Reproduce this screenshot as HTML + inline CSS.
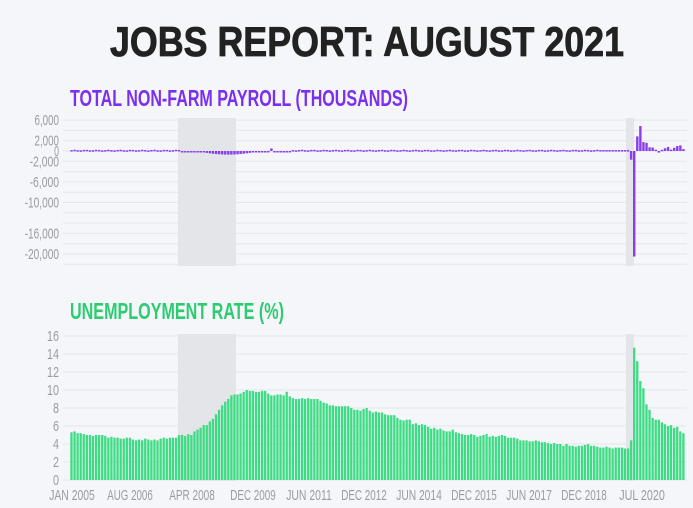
<!DOCTYPE html>
<html><head><meta charset="utf-8"><style>
html,body{margin:0;padding:0;background:#f4f6f9;}
svg{display:block;font-family:"Liberation Sans Narrow","Liberation Sans",sans-serif;}
</style></head><body>
<svg id="s" width="693" height="508" viewBox="0 0 693 508" xmlns="http://www.w3.org/2000/svg">
<rect width="693" height="508" fill="#f4f6f9"/>
<text x="367" y="56" text-anchor="middle" font-size="42" font-weight="bold" fill="#222" stroke="#222" stroke-width="0.8" textLength="514" lengthAdjust="spacingAndGlyphs">JOBS REPORT: AUGUST 2021</text>
<text x="70" y="106" font-size="23" font-weight="bold" fill="#7b2ff0" textLength="338" lengthAdjust="spacingAndGlyphs">TOTAL NON-FARM PAYROLL (THOUSANDS)</text>
<text x="70" y="319" font-size="23" font-weight="bold" fill="#2ecc71" textLength="214" lengthAdjust="spacingAndGlyphs">UNEMPLOYMENT RATE (%)</text>
<g id="g"></g>
</svg>
<script>
var g=document.getElementById('g'),h='';
var u=[5.3,5.4,5.2,5.2,5.1,5.0,5.0,4.9,5.0,5.0,5.0,4.9,4.7,4.8,4.7,4.7,4.6,4.6,4.7,4.7,4.5,4.4,4.5,4.4,4.6,4.5,4.4,4.5,4.4,4.6,4.7,4.6,4.7,4.7,4.7,5.0,5.0,4.9,5.1,5.0,5.4,5.6,5.8,6.1,6.1,6.5,6.8,7.3,7.8,8.3,8.7,9.0,9.4,9.5,9.5,9.6,9.8,10.0,9.9,9.9,9.8,9.8,9.9,9.9,9.6,9.4,9.4,9.5,9.5,9.4,9.8,9.3,9.1,9.0,9.0,9.1,9.0,9.1,9.0,9.0,9.0,8.8,8.6,8.5,8.3,8.3,8.2,8.2,8.2,8.2,8.2,8.0,7.8,7.8,7.7,7.9,8.0,7.7,7.5,7.6,7.5,7.5,7.3,7.2,7.2,7.2,6.9,6.7,6.6,6.7,6.7,6.2,6.3,6.1,6.2,6.1,5.9,5.7,5.8,5.6,5.7,5.5,5.4,5.4,5.6,5.3,5.2,5.1,5.0,5.0,5.1,5.0,4.8,4.9,5.0,5.1,4.8,4.9,4.8,4.9,5.0,4.9,4.7,4.7,4.7,4.6,4.4,4.4,4.4,4.3,4.3,4.4,4.3,4.2,4.2,4.1,4.0,4.1,4.0,4.0,3.8,4.0,3.8,3.8,3.7,3.8,3.8,3.9,4.0,3.8,3.8,3.7,3.6,3.6,3.7,3.6,3.5,3.6,3.6,3.6,3.5,3.5,4.4,14.7,13.2,11.0,10.2,8.4,7.8,6.9,6.7,6.7,6.4,6.2,6.0,6.1,5.8,5.9,5.4,5.2];
var p=[];
for(var i=0;i<200;i++){var v=180+60*Math.sin(i*1.7);
 if(i>=36&&i<42)v=-100-20*(i-36);
 if(i>=42&&i<60)v=-200-500*Math.sin((i-42)/18*Math.PI);
 if(i==65)v=500; if(i>=60&&i<72&&i!=65)v=-30+40*Math.sin(i);
 if(i>=172&&i<182)v=180;
 p.push(v);}
var cv=[-1683,-20493,2833,4846,1726,1583,716,680,264,-306,233,536,785,269,614,962,1091,366];
for(var k=0;k<cv.length;k++)p[182+k]=cv[k];
var x0=70,bw=3.075;
function lbl(x,y,s,anchor,cw,fs){return '<text x="'+x+'" y="'+y+'" text-anchor="'+anchor+'" font-size="'+(fs||14)+'" fill="#9a9ca0" textLength="'+(s.length*cw).toFixed(1)+'" lengthAdjust="spacingAndGlyphs">'+s+'</text>';}
for(var v=6000;v>=-22000;v-=2000){var y=151-v*0.00515;h+='<line x1="63" x2="687" y1="'+y+'" y2="'+y+'" stroke="#e3e6eb" stroke-width="1"/>';}
h+='<rect x="178" y="118" width="58" height="148" fill="#e3e5e8"/><rect x="626" y="118" width="8" height="148" fill="#e3e5e8"/>';
[6000,2000,0,-2000,-6000,-10000,-16000,-20000].forEach(function(v){var y=151-v*0.00515+5;h+=lbl(59,y,(v<0?'-':'')+Math.abs(v).toLocaleString('en-US'),'end',4.9,15);});
for(var i=0;i<200;i++){var x=x0+i*bw,v=p[i],y1=151,y2=151-v*0.00515;var t=Math.min(y1,y2),hh=Math.max(Math.abs(y2-y1),1.5);h+='<rect x="'+(x+0.3).toFixed(2)+'" y="'+t.toFixed(2)+'" width="2.4" height="'+hh.toFixed(2)+'" fill="#8a3cf0"/>';}
for(var v=0;v<=16;v+=2){var y=480-v*9;h+='<line x1="63" x2="687" y1="'+y+'" y2="'+y+'" stroke="#e3e6eb" stroke-width="1"/>';h+=lbl(59,y+5,''+v,'end',6,15);}
h+='<rect x="178" y="334" width="58" height="147" fill="#e3e5e8"/><rect x="626" y="334" width="8" height="147" fill="#e3e5e8"/>';
for(var i=0;i<200;i++){var x=x0+i*bw,y=480-u[i]*9;h+='<rect x="'+(x+0.3).toFixed(2)+'" y="'+y.toFixed(2)+'" width="2.3" height="'+(u[i]*9).toFixed(2)+'" fill="#3ddc84"/>';}
[['JAN 2005',72],['AUG 2006',130],['APR 2008',192],['DEC 2009',253],['JUN 2011',309],['DEC 2012',364],['JUN 2014',419],['DEC 2015',474],['JUN 2017',529],['DEC 2018',584],['JUL 2020',642]].forEach(function(a){h+=lbl(a[1],500,a[0],'middle',5.7,15);});
g.innerHTML=h;
</script>
</body></html>
